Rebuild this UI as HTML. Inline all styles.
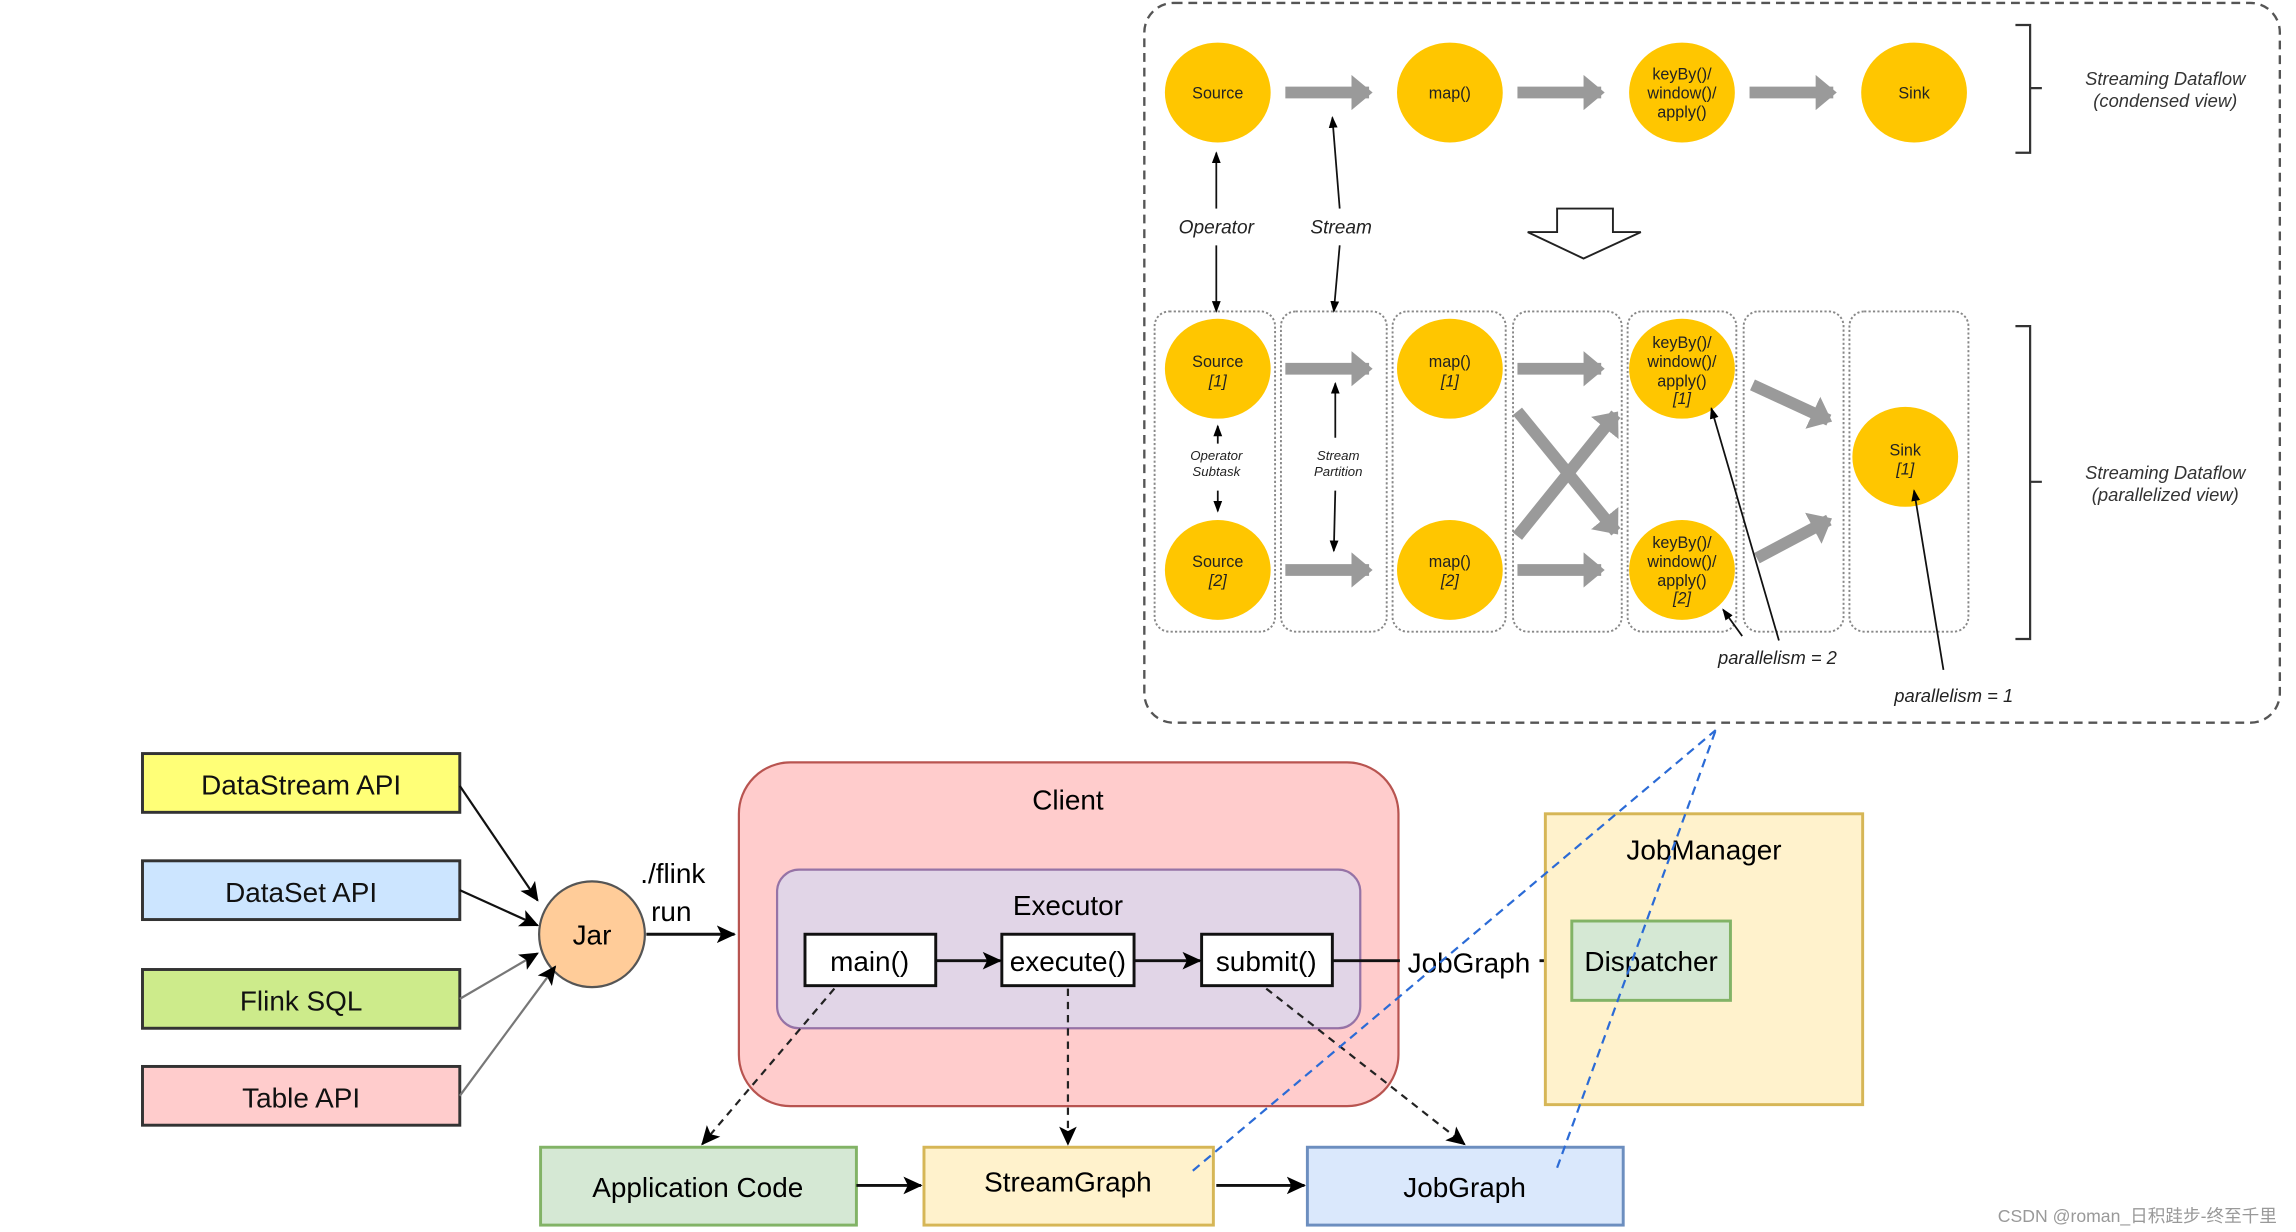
<!DOCTYPE html>
<html><head><meta charset="utf-8"><style>
html,body{margin:0;padding:0;background:#fff;width:2296px;height:1232px;overflow:hidden}
svg{display:block}
text{font-family:"Liberation Sans","Noto Sans CJK SC",sans-serif}
</style></head><body>
<svg width="2296" height="1232" viewBox="0 0 1563 838.7" preserveAspectRatio="none" xmlns="http://www.w3.org/2000/svg">
<defs>
<marker id="ga" markerWidth="3" markerHeight="3" refX="1.5" refY="1.5" orient="auto" markerUnits="strokeWidth"><path d="M0,0 L1.8,1.5 L0,3 Z" fill="#9a9a9a"/></marker>
<marker id="ba" markerWidth="8" markerHeight="8" refX="7" refY="4" orient="auto" markerUnits="userSpaceOnUse"><path d="M0,1 L8,4 L0,7 Z" fill="#000"/></marker>
<marker id="bb" markerWidth="14" markerHeight="14" refX="12" refY="7" orient="auto" markerUnits="userSpaceOnUse"><path d="M0,1 L13,7 L0,13 L3,7 Z" fill="#000"/></marker>
</defs>

<rect x="779" y="2" width="773" height="490" rx="20" fill="#fff" stroke="#555" stroke-width="1.6" stroke-dasharray="6,4"/>

<g fill="#FFC600">
<ellipse cx="829" cy="63" rx="36" ry="34"/><ellipse cx="987" cy="63" rx="36" ry="34"/>
<ellipse cx="1145" cy="63" rx="36" ry="34"/><ellipse cx="1303" cy="63" rx="36" ry="34"/>
</g>
<g font-size="11" text-anchor="middle" fill="#222">
<text x="829" y="67">Source</text><text x="987" y="67">map()</text>
<text x="1145" y="54">keyBy()/</text><text x="1145" y="67">window()/</text><text x="1145" y="80">apply()</text>
<text x="1303" y="67">Sink</text>
</g>
<g stroke="#9a9a9a" stroke-width="8" marker-end="url(#ga)">
<line x1="875" y1="63" x2="932" y2="63"/><line x1="1033" y1="63" x2="1090" y2="63"/><line x1="1191" y1="63" x2="1248" y2="63"/>
</g>
<path d="M1372,17 H1382 V104 H1372 M1382,60 H1390" fill="none" stroke="#333" stroke-width="1.5"/>
<g font-size="12.5" font-style="italic" text-anchor="middle" fill="#333">
<text x="1474" y="58">Streaming Dataflow</text><text x="1474" y="73">(condensed view)</text>
<text x="1474" y="326">Streaming Dataflow</text><text x="1474" y="341">(parallelized view)</text>
</g>
<path d="M1372,222 H1382 V435 H1372 M1382,328 H1390" fill="none" stroke="#333" stroke-width="1.5"/>

<g font-size="13" font-style="italic" text-anchor="middle" fill="#222">
<text x="828" y="159">Operator</text><text x="913" y="159">Stream</text>
</g>
<g stroke="#111" stroke-width="1.2" marker-end="url(#ba)">
<line x1="828" y1="142" x2="828" y2="104"/><line x1="828" y1="167" x2="828" y2="212"/>
<line x1="912" y1="142" x2="907" y2="80"/><line x1="912" y1="167" x2="908" y2="212"/>
</g>
<path d="M1060,142 H1098 V158 H1117 L1078,176 L1040,158 H1060 Z" fill="#fff" stroke="#222" stroke-width="1.3"/>

<g fill="none" stroke="#888" stroke-width="1.3" stroke-dasharray="1.5,1.5">
<rect x="786" y="212" width="82" height="218" rx="10"/>
<rect x="872" y="212" width="72" height="218" rx="10"/>
<rect x="948" y="212" width="77" height="218" rx="10"/>
<rect x="1030" y="212" width="74" height="218" rx="10"/>
<rect x="1108" y="212" width="74" height="218" rx="10"/>
<rect x="1187" y="212" width="68" height="218" rx="10"/>
<rect x="1259" y="212" width="81" height="218" rx="10"/>
</g>
<g fill="#FFC600">
<ellipse cx="829" cy="251" rx="36" ry="34"/><ellipse cx="829" cy="388" rx="36" ry="34"/>
<ellipse cx="987" cy="251" rx="36" ry="34"/><ellipse cx="987" cy="388" rx="36" ry="34"/>
<ellipse cx="1145" cy="251" rx="36" ry="34"/><ellipse cx="1145" cy="388" rx="36" ry="34"/>
<ellipse cx="1297" cy="311" rx="36" ry="34"/>
</g>
<g font-size="11" text-anchor="middle" fill="#222">
<text x="829" y="250">Source</text><text x="829" y="263" font-style="italic">[1]</text>
<text x="829" y="386">Source</text><text x="829" y="399" font-style="italic">[2]</text>
<text x="987" y="250">map()</text><text x="987" y="263" font-style="italic">[1]</text>
<text x="987" y="386">map()</text><text x="987" y="399" font-style="italic">[2]</text>
<text x="1145" y="237">keyBy()/</text><text x="1145" y="250">window()/</text><text x="1145" y="263">apply()</text><text x="1145" y="275" font-style="italic">[1]</text>
<text x="1145" y="373">keyBy()/</text><text x="1145" y="386">window()/</text><text x="1145" y="399">apply()</text><text x="1145" y="411" font-style="italic">[2]</text>
<text x="1297" y="310">Sink</text><text x="1297" y="323" font-style="italic">[1]</text>
</g>
<g stroke="#9a9a9a" stroke-width="8" marker-end="url(#ga)">
<line x1="875" y1="251" x2="932" y2="251"/><line x1="875" y1="388" x2="932" y2="388"/>
<line x1="1033" y1="251" x2="1090" y2="251"/><line x1="1033" y1="388" x2="1090" y2="388"/>
<line x1="1033" y1="280" x2="1100" y2="362"/><line x1="1033" y1="365" x2="1100" y2="282"/>
<line x1="1193" y1="262" x2="1245" y2="286"/><line x1="1196" y1="380" x2="1245" y2="354"/>
</g>
<g font-size="9" font-style="italic" text-anchor="middle" fill="#222">
<text x="828" y="313">Operator</text><text x="828" y="324">Subtask</text>
<text x="911" y="313">Stream</text><text x="911" y="324">Partition</text>
<text x="1210" y="452" font-size="12.5">parallelism = 2</text>
<text x="1330" y="478" font-size="12.5">parallelism = 1</text>
</g>
<g stroke="#111" stroke-width="1.2" marker-end="url(#ba)">
<line x1="829" y1="302" x2="829" y2="290"/><line x1="829" y1="334" x2="829" y2="348"/>
<line x1="909" y1="298" x2="909" y2="261"/><line x1="909" y1="334" x2="908" y2="375"/>
<line x1="1211" y1="436" x2="1165" y2="278"/><line x1="1186" y1="433" x2="1173" y2="415"/>
<line x1="1323" y1="456" x2="1303" y2="334"/>
</g>

<g stroke="#333" stroke-width="2">
<rect x="97" y="513" width="216" height="40" fill="#ffff77"/>
<rect x="97" y="586" width="216" height="40" fill="#cce5ff"/>
<rect x="97" y="660" width="216" height="40" fill="#cdeb8b"/>
<rect x="97" y="726" width="216" height="40" fill="#ffcccc"/>
</g>
<g font-size="19" text-anchor="middle" fill="#111">
<text x="205" y="541">DataStream API</text><text x="205" y="614">DataSet API</text>
<text x="205" y="688">Flink SQL</text><text x="205" y="754">Table API</text>
</g>
<ellipse cx="403" cy="636" rx="36" ry="36" fill="#ffcc99" stroke="#555" stroke-width="1.5"/>
<text x="403" y="643" font-size="19" text-anchor="middle">Jar</text>
<g stroke="#111" stroke-width="1.5" marker-end="url(#bb)">
<line x1="313" y1="535" x2="366" y2="613"/><line x1="313" y1="606" x2="366" y2="630"/>
</g>
<g stroke="#777" stroke-width="1.5" marker-end="url(#bb)">
<line x1="313" y1="680" x2="366" y2="649"/><line x1="313" y1="746" x2="378" y2="658"/>
</g>
<text x="458" y="601" font-size="19" text-anchor="middle">./flink</text>
<text x="457" y="627" font-size="19" text-anchor="middle">run</text>
<line x1="440" y1="636" x2="500" y2="636" stroke="#111" stroke-width="2" marker-end="url(#bb)"/>

<rect x="503" y="519" width="449" height="234" rx="35" fill="#ffcccc" stroke="#b85450" stroke-width="1.5"/>
<text x="727" y="551" font-size="19" text-anchor="middle">Client</text>
<rect x="529" y="592" width="397" height="108" rx="15" fill="#e1d5e7" stroke="#9673a6" stroke-width="1.5"/>
<text x="727" y="623" font-size="19" text-anchor="middle">Executor</text>
<g stroke="#111" stroke-width="2" fill="#fff">
<rect x="548" y="636" width="89" height="35"/><rect x="682" y="636" width="90" height="35"/><rect x="818" y="636" width="89" height="35"/>
</g>
<g font-size="19" text-anchor="middle">
<text x="592" y="661">main()</text><text x="727" y="661">execute()</text><text x="862" y="661">submit()</text>
</g>
<g stroke="#111" stroke-width="2" marker-end="url(#bb)">
<line x1="637" y1="654" x2="681" y2="654"/><line x1="772" y1="654" x2="817" y2="654"/>
</g>
<line x1="907" y1="654" x2="1052" y2="654" stroke="#111" stroke-width="2"/>
<rect x="953" y="643" width="95" height="24" fill="#fff"/>
<text x="1000" y="662" font-size="19" text-anchor="middle">JobGraph</text>

<rect x="1052" y="554" width="216" height="198" fill="#fff2cc" stroke="#d6b656" stroke-width="2"/>
<text x="1160" y="585" font-size="19" text-anchor="middle">JobManager</text>
<rect x="1070" y="627" width="108" height="54" fill="#d5e8d4" stroke="#82b366" stroke-width="2"/>
<text x="1124" y="661" font-size="19" text-anchor="middle">Dispatcher</text>

<rect x="368" y="781" width="215" height="53" fill="#d5e8d4" stroke="#82b366" stroke-width="2"/>
<rect x="629" y="781" width="197" height="53" fill="#fff2cc" stroke="#d6b656" stroke-width="2"/>
<rect x="890" y="781" width="215" height="53" fill="#dae8fc" stroke="#6c8ebf" stroke-width="2"/>
<g font-size="19" text-anchor="middle">
<text x="475" y="815">Application Code</text><text x="727" y="811">StreamGraph</text><text x="997" y="815">JobGraph</text>
</g>
<g stroke="#111" stroke-width="2" marker-end="url(#bb)">
<line x1="583" y1="807" x2="627" y2="807"/><line x1="828" y1="807" x2="888" y2="807"/>
</g>
<g stroke="#222" stroke-width="1.5" stroke-dasharray="5,4" marker-end="url(#bb)">
<line x1="568" y1="673" x2="478" y2="779"/><line x1="727" y1="673" x2="727" y2="779"/><line x1="862" y1="673" x2="997" y2="779"/>
</g>
<g stroke="#2b6bd6" stroke-width="1.5" stroke-dasharray="6,4" fill="none">
<line x1="812" y1="797" x2="1168" y2="497"/><line x1="1060" y1="795" x2="1168" y2="497"/>
</g>
<text x="1455" y="832" font-size="12" text-anchor="middle" fill="#999">CSDN @roman_日积跬步-终至千里</text>
</svg>
</body></html>
